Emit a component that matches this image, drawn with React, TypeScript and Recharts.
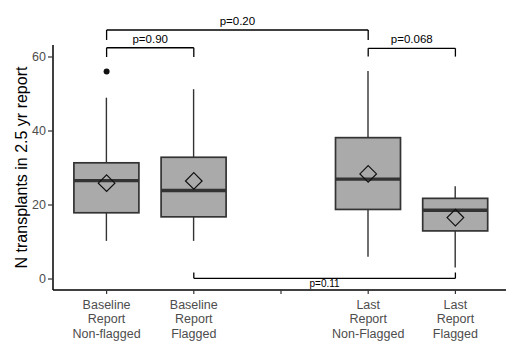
import { ComposedChart, Bar, Scatter, XAxis, YAxis, ReferenceLine } from 'recharts';

// box plot summary per group (the blank slot keeps the gap between baseline and last)
const categories = [
  'Baseline\nReport\nNon-flagged',
  'Baseline\nReport\nFlagged',
  ' ',
  'Last\nReport\nNon-Flagged',
  'Last\nReport\nFlagged',
];
const whiskerLow = [10.3, 10.3, null, 6.0, 3.1];
const q1 = [17.9, 16.8, null, 18.8, 13.0];
const medians = [26.6, 23.9, null, 27.0, 18.6];
const q3 = [31.4, 32.9, null, 38.2, 21.8];
const whiskerHigh = [49.0, 51.3, null, 56.2, 25.1];
const means = [25.9, 26.5, null, 28.4, 16.6];

const outlierGroups = [0];
const outlierValues = [56.1];

const yTicks = [0, 20, 40, 60];

// significance brackets
const pLabels = ['p=0.20', 'p=0.90', 'p=0.068', 'p=0.11'];
const pFrom = [0, 0, 3, 1];
const pTo = [3, 1, 4, 4];
const pLevel = [67.3, 62.5, 62.35, 0.19];
const pTip = [64.6, 60.0, 60.1, 1.76];

const rows = categories.map((cat, i) => ({
  cat,
  box: q1[i] == null ? null : [q1[i], q3[i]],
  q1: q1[i],
  q3: q3[i],
  lo: whiskerLow[i],
  hi: whiskerHigh[i],
  median: medians[i],
  mean: means[i],
}));

const outliers = outlierGroups.map((g, i) => ({ cat: categories[g], value: outlierValues[i] }));

const FONT = 'Arial, "Liberation Sans", Helvetica, sans-serif';

const BoxShape = (props: any) => {
  const { x, y, width, height, payload } = props;
  if (!payload || payload.box == null || !height) return <g />;
  const top = Math.min(y, y + height);
  const h = Math.abs(height);
  const unit = h / (payload.q3 - payload.q1);
  const toY = (v: number) => top + (payload.q3 - v) * unit;
  const cx = x + width / 2;
  return (
    <g>
      <line x1={cx} x2={cx} y1={toY(payload.hi)} y2={top} stroke="#333" strokeWidth={1.4} />
      <line x1={cx} x2={cx} y1={top + h} y2={toY(payload.lo)} stroke="#333" strokeWidth={1.4} />
      <rect x={x} y={top} width={width} height={h} fill="#aaaaaa" stroke="#333" strokeWidth={1.7} />
      <line x1={x} x2={x + width} y1={toY(payload.median)} y2={toY(payload.median)} stroke="#333" strokeWidth={3.4} />
    </g>
  );
};

const Diamond = (props: any) => {
  const { cx, cy, payload } = props;
  if (!payload || payload.mean == null) return <g />;
  const r = 8.3;
  return (
    <path
      d={`M${cx},${cy - r}L${cx + r},${cy}L${cx},${cy + r}L${cx - r},${cy}Z`}
      fill="none"
      stroke="#111"
      strokeWidth={1.2}
    />
  );
};

const Dot = (props: any) => <circle cx={props.cx} cy={props.cy} r={3} fill="#111" />;

const CatTick = (props: any) => {
  const { x, y, payload } = props;
  const lines = String(payload.value).split('\n');
  return (
    <text x={x} y={y} textAnchor="middle" fill="#4d4d4d" fontSize={12.5} fontFamily={FONT}>
      {lines.map((l, i) => (
        <tspan key={i} x={x} dy={i === 0 ? 12.5 : 14.5}>
          {l}
        </tspan>
      ))}
    </text>
  );
};

const YLabel = (props: any) => {
  const vb = props.viewBox;
  const cx = vb.x + 21;
  const cy = vb.y + vb.height / 2;
  return (
    <text
      x={cx}
      y={cy}
      transform={`rotate(-90 ${cx} ${cy})`}
      textAnchor="middle"
      dominantBaseline="central"
      fill="#000"
      fontSize={16}
      fontFamily={FONT}
    >
      N transplants in 2.5 yr report
    </text>
  );
};

export default function App() {
  const lineStyle = { stroke: '#000', strokeWidth: 1.3 };
  return (
    <div style={{ position: 'absolute', left: 0, top: 0, width: 506, height: 341, overflow: 'hidden', background: '#fff' }}>
      <ComposedChart
        width={510}
        height={341}
        data={rows}
        margin={{ top: 45, right: 2, bottom: 0, left: 0 }}
        barCategoryGap="12.5%"
      >
        <XAxis
          dataKey="cat"
          type="category"
          allowDuplicatedCategory={false}
          interval={0}
          height={51}
          padding={{ left: 10, right: 9 }}
          tickSize={4}
          tickLine={{ stroke: '#333', strokeWidth: 1.2 }}
          axisLine={{ stroke: '#000', strokeWidth: 1.5 }}
          tick={<CatTick />}
        />
        <YAxis
          type="number"
          width={53}
          domain={[-2.97, 63.24]}
          allowDataOverflow
          ticks={yTicks}
          tickSize={5}
          tickMargin={2}
          tickLine={{ stroke: '#333', strokeWidth: 1.2 }}
          axisLine={{ stroke: '#000', strokeWidth: 1.5 }}
          tick={{ fill: '#4d4d4d', fontSize: 12.5, fontFamily: FONT }}
          label={<YLabel />}
        />
        <Bar dataKey="box" shape={<BoxShape />} isAnimationActive={false} />
        <Scatter dataKey="mean" shape={<Diamond />} isAnimationActive={false} />
        <Scatter data={outliers} dataKey="value" shape={<Dot />} isAnimationActive={false} />
        {pLabels.map((label, i) => {
          const a = categories[pFrom[i]];
          const b = categories[pTo[i]];
          const below = pTip[i] > pLevel[i];
          return [
            <ReferenceLine
              key={`l${i}`}
              ifOverflow="visible"
              segment={[{ x: a, y: pTip[i] }, { x: a, y: pLevel[i] }]}
              {...lineStyle}
            />,
            <ReferenceLine
              key={`h${i}`}
              ifOverflow="visible"
              segment={[{ x: a, y: pLevel[i] }, { x: b, y: pLevel[i] }]}
              {...lineStyle}
              label={{
                value: label,
                position: below ? 'bottom' : 'top',
                offset: below ? 2 : 5,
                fill: '#000',
                fontSize: below ? 10 : 11.5,
                fontFamily: FONT,
              }}
            />,
            <ReferenceLine
              key={`r${i}`}
              ifOverflow="visible"
              segment={[{ x: b, y: pLevel[i] }, { x: b, y: pTip[i] }]}
              {...lineStyle}
            />,
          ];
        })}
      </ComposedChart>
    </div>
  );
}
